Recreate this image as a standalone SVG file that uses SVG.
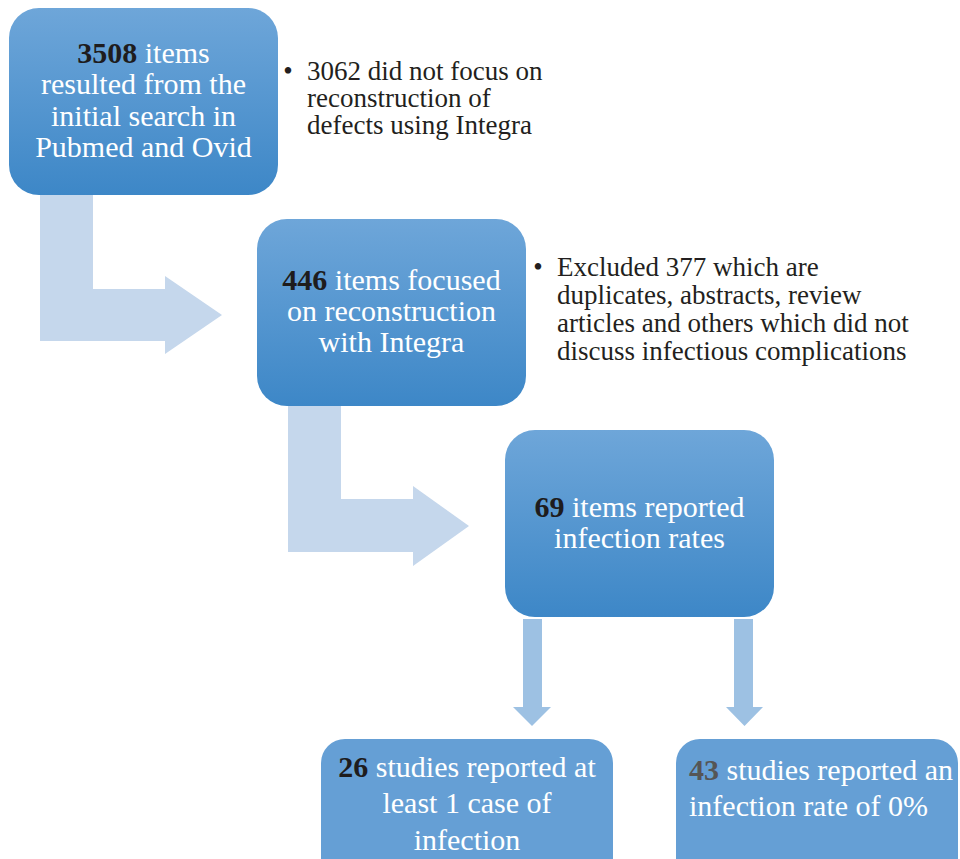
<svg xmlns="http://www.w3.org/2000/svg" width="960" height="859" viewBox="0 0 960 859">
  <defs>
    <linearGradient id="boxGrad" x1="0" y1="0" x2="0" y2="1">
      <stop offset="0" stop-color="#6ea6d9"/>
      <stop offset="1" stop-color="#3d87c7"/>
    </linearGradient>
    <style>
      .box { fill: url(#boxGrad); }
      .flat { fill: #659fd5; }
      .bent { fill: #c5d7ec; }
      .down { fill: #9dc1e3; }
      .t { font-family: 'Liberation Serif', 'DejaVu Serif', serif; font-size: 30px; fill: #ffffff; text-anchor: middle; }
      .num { font-weight: bold; fill: #1e1c1d; }
      .numg { font-weight: bold; fill: #555555; }
      .note { font-family: 'Liberation Serif', 'DejaVu Serif', serif; font-size: 27px; fill: #231f20; }
    </style>
  </defs>
  <rect width="960" height="859" fill="#ffffff"/>

  <g id="connectors">
    <polygon class="bent" points="40,190 93,190 93,289 165,289 165,276 222,315 165,354 165,341 40,341"/>
    <polygon class="bent" points="288,400 341,400 341,499 413,499 413,486 469,526 413,566 413,552 288,552"/>
    <polygon class="down" points="523,619 542,619 542,707 551,707 532,726 513,707 523,707"/>
    <polygon class="down" points="734,619 753,619 753,707 763,707 744.5,726 726,707 734,707"/>
  </g>

  <g id="node-search">
    <rect class="box" x="9" y="8" width="269" height="187" rx="30" ry="30"/>
    <text class="t" x="143.5" y="63"><tspan class="num">3508</tspan> items</text>
    <text class="t" x="143.5" y="94">resulted from the</text>
    <text class="t" x="143.5" y="126">initial search in</text>
    <text class="t" x="143.5" y="157">Pubmed and Ovid</text>
  </g>

  <g id="note-1">
    <text class="note" x="288" y="80" text-anchor="middle">•</text>
    <text class="note" x="307" y="80">3062 did not focus on</text>
    <text class="note" x="307" y="107">reconstruction of</text>
    <text class="note" x="307" y="134">defects using Integra</text>
  </g>

  <g id="node-integra">
    <rect class="box" x="257" y="219" width="269" height="187" rx="30" ry="30"/>
    <text class="t" x="391.5" y="290"><tspan class="num">446</tspan> items focused</text>
    <text class="t" x="391.5" y="321">on reconstruction</text>
    <text class="t" x="391.5" y="352">with Integra</text>
  </g>

  <g id="note-2">
    <text class="note" x="538" y="276" text-anchor="middle">•</text>
    <text class="note" x="557" y="276">Excluded 377 which are</text>
    <text class="note" x="557" y="304">duplicates, abstracts, review</text>
    <text class="note" x="557" y="332">articles and others which did not</text>
    <text class="note" x="557" y="360">discuss infectious complications</text>
  </g>

  <g id="node-infection">
    <rect class="box" x="505" y="430" width="269" height="187" rx="30" ry="30"/>
    <text class="t" x="639.5" y="517"><tspan class="num">69</tspan> items reported</text>
    <text class="t" x="639.5" y="548">infection rates</text>
  </g>

  <g id="node-positive">
    <rect class="flat" x="321" y="739" width="292" height="150" rx="24" ry="24"/>
    <text class="t" x="467" y="777"><tspan class="num">26</tspan> studies reported at</text>
    <text class="t" x="467" y="813">least 1 case of</text>
    <text class="t" x="467" y="850">infection</text>
  </g>

  <g id="node-zero">
    <rect class="flat" x="676" y="739" width="282" height="150" rx="24" ry="24"/>
    <text class="t" x="689" y="780" style="text-anchor:start"><tspan class="numg">43</tspan> studies reported an</text>
    <text class="t" x="689" y="816" style="text-anchor:start">infection rate of 0%</text>
  </g>
</svg>
